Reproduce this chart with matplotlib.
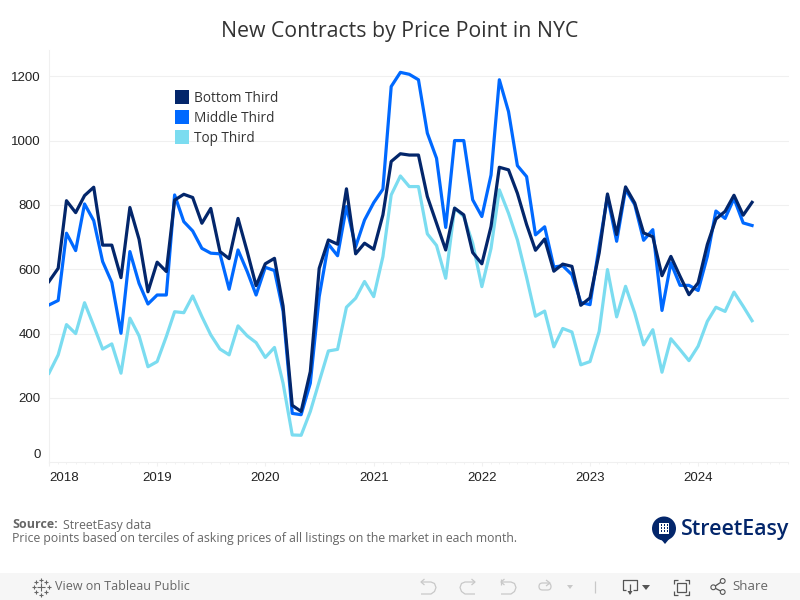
import matplotlib
matplotlib.use("Agg")
import matplotlib.pyplot as plt
import matplotlib.dates as mdates
from matplotlib.patches import Rectangle, Circle, Polygon, FancyBboxPatch
import pandas as pd

months = pd.date_range("2018-01-01", "2024-07-01", freq="MS")

bottom_third = [562, 603, 813, 776, 829, 855, 675, 675, 574, 792, 693, 530,
                622, 593, 815, 833, 823, 743, 789, 655, 633, 758, 655, 549,
                617, 634, 486, 177, 158, 282, 603, 691, 678, 850, 648, 681,
                662, 769, 935, 959, 955, 955, 826, 743, 660, 790, 769, 652,
                617, 733, 917, 909, 836, 739, 659, 694, 594, 616, 609, 488,
                511, 651, 834, 708, 856, 806, 713, 701, 580, 640, 578, 521,
                558, 677, 756, 780, 830, 768, 808]
middle_third = [489, 503, 712, 658, 803, 751, 624, 559, 401, 655, 556, 492,
                520, 520, 831, 748, 719, 665, 650, 648, 538, 660, 593, 520,
                606, 596, 470, 152, 148, 246, 515, 678, 642, 795, 670, 753,
                807, 849, 1168, 1212, 1206, 1189, 1023, 945, 730, 1000, 1000, 816,
                764, 893, 1189, 1090, 922, 888, 707, 732, 607, 611, 583, 497,
                490, 672, 827, 687, 848, 801, 690, 723, 472, 620, 550, 550,
                534, 640, 781, 758, 820, 744, 736]
top_third = [277, 334, 428, 400, 496, 424, 352, 368, 277, 448, 393, 297,
             313, 391, 468, 465, 517, 453, 396, 352, 334, 424, 393, 372,
             326, 357, 246, 85, 84, 158, 251, 346, 351, 482, 510, 562,
             515, 639, 831, 890, 857, 857, 710, 674, 572, 790, 764, 681,
             546, 665, 847, 774, 691, 575, 454, 470, 359, 416, 405, 303,
             313, 407, 599, 452, 547, 464, 365, 412, 280, 384, 350, 316,
             361, 438, 482, 469, 529, 485, 440]

series_names = ["Bottom Third", "Middle Third", "Top Third"]
series_colors = ["#03266b", "#0069ff", "#7bdcf0"]
y_ticks = [200, 400, 600, 800, 1000, 1200]

W, H = 800, 600
GRID = "#f0f0f0"
TICK_TEXT = "#222222"
fig = plt.figure(figsize=(8, 6), dpi=100)

# main chart, placed so that pixel positions line up with the reference
ax = fig.add_axes([49 / W, (H - 462.3) / H, (788.5 - 49) / W, (462.3 - 50) / H])
ax.set_xlim(pd.Timestamp("2018-01-01"), pd.Timestamp("2024-11-01"))
ax.set_ylim(0, 1281.5)

ax.plot(months, top_third, color=series_colors[2], lw=2.3, zorder=3)
ax.plot(months, middle_third, color=series_colors[1], lw=2.3, zorder=4)
ax.plot(months, bottom_third, color=series_colors[0], lw=2.3, zorder=5)

for s in ["top", "right"]:
    ax.spines[s].set_visible(False)
for s in ["left", "bottom"]:
    ax.spines[s].set_color(GRID)
    ax.spines[s].set_linewidth(0.8)

ax.set_yticks(y_ticks)
ax.set_yticklabels([str(v) for v in y_ticks], fontsize=9.5, family="Liberation Sans", color=TICK_TEXT)
ax.tick_params(axis="y", length=0, pad=6)
ax.grid(axis="y", color=GRID, lw=0.8)
ax.set_axisbelow(True)

ax.xaxis.set_major_locator(mdates.YearLocator())
ax.xaxis.set_minor_locator(mdates.MonthLocator())
ax.xaxis.set_major_formatter(mdates.DateFormatter("%Y"))
ax.tick_params(axis="x", which="major", length=3, color=GRID, pad=4, labelsize=9.5, labelcolor=TICK_TEXT)
ax.tick_params(axis="x", which="minor", length=1.5, color=GRID)
for lab in ax.get_xticklabels():
    lab.set_family("Liberation Sans")
ax.get_xticklabels()[0].set_ha("left")

# overlay in pixel coordinates for title, legend, footer and toolbar
ov = fig.add_axes([0, 0, 1, 1], facecolor="none")
ov.set_xlim(0, W)
ov.set_ylim(H, 0)
ov.axis("off")

ov.text(400, 31, "New Contracts by Price Point in NYC", ha="center", va="center",
        fontsize=15.3, family="Open Sans", color="#333333")

ov.text(41, 454.5, "0", ha="right", va="center", fontsize=9.5, family="Liberation Sans", color=TICK_TEXT)

for i, (name, col) in enumerate(zip(series_names, series_colors)):
    y = 97 + 20 * i
    ov.add_patch(Rectangle((175, y - 7), 14, 14, color=col, lw=0))
    ov.text(194, y + 1.5, name, va="center", fontsize=9.8, family="Open Sans", color="#333333")

FOOT = "#666666"
ov.text(12, 525, "Source:", fontsize=9, fontweight="bold", family="Open Sans", color=FOOT, va="center")
ov.text(63, 525, "StreetEasy data", fontsize=8.8, family="Open Sans", color=FOOT, va="center")
ov.text(12, 538.5, "Price points based on terciles of asking prices of all listings on the market in each month.",
        fontsize=8.85, family="Open Sans", color=FOOT, va="center")

# logo
NAVY = "#03266b"
ov.add_patch(Circle((664, 528.5), 12, color=NAVY, lw=0))
ov.add_patch(Polygon([[660, 538], [670, 538], [665, 544]], color=NAVY, lw=0))
ov.add_patch(Rectangle((659.3, 523), 10, 10.5, color="white", lw=0))
for row in range(3):
    for col in range(3):
        ov.add_patch(Rectangle((660.6 + col * 3, 524.3 + row * 3), 1.4, 1.6, color=NAVY, lw=0))
ov.text(681, 530, "StreetEasy", fontsize=15.4, fontweight="semibold", family="Open Sans",
        color=NAVY, va="center")

# toolbar strip
ov.add_patch(Rectangle((0, 573), W, 27, color="#f6f6f6", lw=0))
TB = "#666666"
OFF = "#c8c8c8"
DARK = "#555555"


def icon(xs, ys, col=OFF, lw=0.9):
    ov.plot(xs, ys, color=col, lw=lw, solid_capstyle="butt")


def undo(x0, flip=False):
    # curved arrow, mirrored for redo
    dx = [1, 5, 11, 14.5, 16, 14.5, 11, 1]
    dy = [582, 582, 582, 583.5, 587.5, 591.5, 594, 594]
    hx = [4.5, 1, 4.5]
    hy = [579, 582, 585]
    if flip:
        dx = [16 - v for v in dx]
        hx = [16 - v for v in hx]
    icon([x0 + v for v in dx], dy)
    icon([x0 + v for v in hx], hy)


# tableau mark
for cx, cy, r in [(41, 587, 4), (41, 579.5, 2), (41, 594.5, 2), (33.5, 587, 2), (48.5, 587, 2),
                  (36, 582, 2), (46, 582, 2), (36, 592, 2), (46, 592, 2)]:
    icon([cx - r, cx + r], [cy, cy], TB, 0.8)
    icon([cx, cx], [cy - r, cy + r], TB, 0.8)
ov.text(55, 587, "View on Tableau Public", fontsize=9, family="Open Sans", color=TB, va="center")

undo(420)
undo(460, flip=True)
undo(500)
icon([501, 501], [579, 585])
ov.add_patch(FancyBboxPatch((539, 583), 12, 7, boxstyle="round,pad=0,rounding_size=3.5",
                            fill=False, ec=OFF, lw=0.9))
icon([546, 550, 546], [580, 583, 586])
ov.add_patch(Polygon([[567, 585], [573, 585], [570, 589]], color=OFF, lw=0))
icon([595, 595], [581, 593])

# download, fullscreen and share
icon([626, 623, 623, 637, 637, 633], [590, 590, 579.5, 579.5, 590, 590], DARK)
icon([630, 630], [584, 593], DARK)
ov.add_patch(Polygon([[627.5, 591], [632.5, 591], [630, 595]], color=DARK, lw=0))
ov.add_patch(Polygon([[642, 585], [650, 585], [646, 590]], color=DARK, lw=0))
ov.add_patch(Rectangle((676.5, 582.5), 9.5, 9.5, fill=False, ec=DARK, lw=0.9))
for sx, sy in [(673.5, 579.5), (688.5, 579.5), (673.5, 594.5), (688.5, 594.5)]:
    ix = sx + 4 if sx < 680 else sx - 4
    iy = sy + 4 if sy < 587 else sy - 4
    icon([ix, sx, sx], [sy, sy, iy], DARK)
icon([722.7, 713.3, 722.7], [581, 587.3, 592], DARK)
for cx, cy in [(713.3, 587.3), (722.7, 581), (722.7, 592)]:
    ov.add_patch(Circle((cx, cy), 2.4, fc="#f6f6f6", ec=DARK, lw=0.8, zorder=5))
ov.text(732, 587, "Share", fontsize=9.5, family="Open Sans", color=TB, va="center")

fig.savefig("out.png", dpi=100)
